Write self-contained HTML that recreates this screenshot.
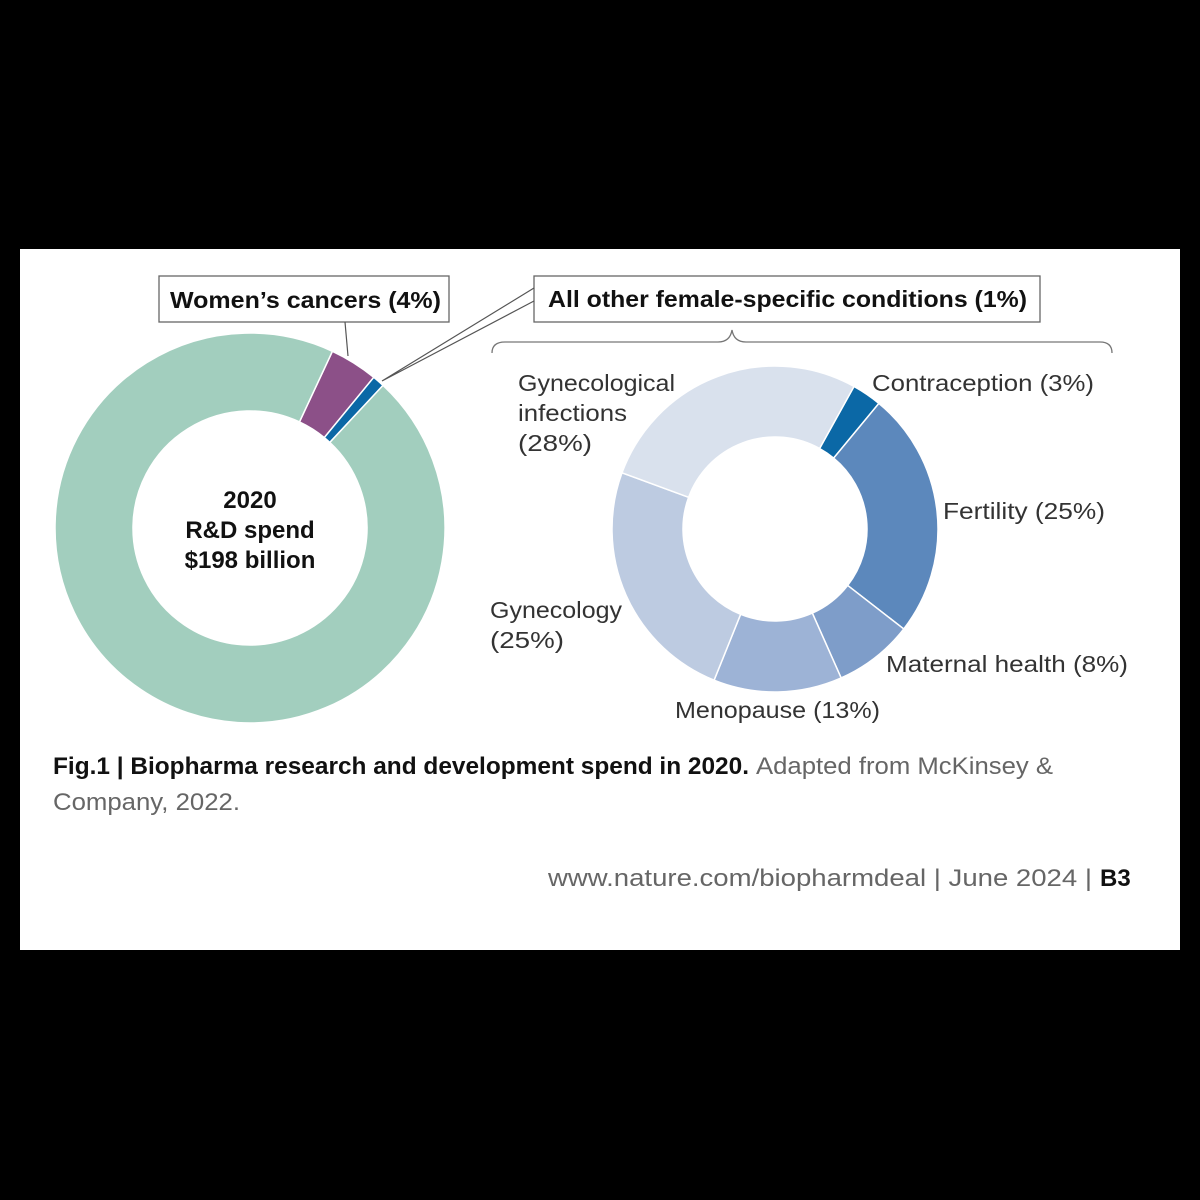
<!DOCTYPE html>
<html><head><meta charset="utf-8"><style>
html,body{margin:0;padding:0;background:#000;width:1200px;height:1200px;overflow:hidden}
svg{display:block}
text{font-family:"Liberation Sans",sans-serif}
</style></head><body>
<svg width="1200" height="1200" viewBox="0 0 1200 1200">
<rect x="20" y="249" width="1160" height="701" fill="#fff"/>
<g id="left"></g>
<g id="right"></g>
<g font-weight="bold" font-size="24" text-anchor="middle" fill="#111">
<text x="250" y="508">2020</text><text x="250" y="538">R&amp;D spend</text><text x="250" y="568">$198 billion</text></g>
<rect x="159" y="276" width="290" height="46" fill="#fff" stroke="#666" stroke-width="1.3"/>
<text x="170" y="308" textLength="271" lengthAdjust="spacingAndGlyphs" font-weight="bold" font-size="23" fill="#111">Women’s cancers (4%)</text>
<polyline points="345,322 348,356" fill="none" stroke="#555" stroke-width="1.2"/>
<rect x="534" y="276" width="506" height="46" fill="#fff" stroke="#666" stroke-width="1.3"/>
<text x="548" y="307" textLength="479" lengthAdjust="spacingAndGlyphs" font-weight="bold" font-size="23" fill="#111">All other female-specific conditions (1%)</text>
<polyline points="534,288 382,381 534,301" fill="none" stroke="#555" stroke-width="1.2"/>
<path d="M492,353 Q492,342 505,342 L718,342 Q730,342 732,330 Q734,342 746,342 L1100,342 Q1112,342 1112,353" fill="none" stroke="#777" stroke-width="1.3"/>
<g id="rlabels" font-size="23" fill="#333">
<text x="518" y="391" textLength="157" lengthAdjust="spacingAndGlyphs">Gynecological</text><text x="518" y="421" textLength="109" lengthAdjust="spacingAndGlyphs">infections</text><text x="518" y="451" textLength="74" lengthAdjust="spacingAndGlyphs">(28%)</text>
<text x="872" y="391" textLength="222" lengthAdjust="spacingAndGlyphs">Contraception (3%)</text>
<text x="943" y="519" textLength="162" lengthAdjust="spacingAndGlyphs">Fertility (25%)</text>
<text x="886" y="672" textLength="242" lengthAdjust="spacingAndGlyphs">Maternal health (8%)</text>
<text x="675" y="718" textLength="205" lengthAdjust="spacingAndGlyphs">Menopause (13%)</text>
<text x="490" y="618" textLength="132" lengthAdjust="spacingAndGlyphs">Gynecology</text><text x="490" y="648" textLength="74" lengthAdjust="spacingAndGlyphs">(25%)</text>
</g>
<text x="53" y="774" textLength="696" lengthAdjust="spacingAndGlyphs" font-size="24" font-weight="bold" fill="#111">Fig.1 | Biopharma research and development spend in 2020.</text>
<text x="756" y="774" textLength="297" lengthAdjust="spacingAndGlyphs" font-size="24" fill="#666">Adapted from McKinsey &amp;</text>
<text x="53" y="810" textLength="187" lengthAdjust="spacingAndGlyphs" font-size="24" fill="#666">Company, 2022.</text>
<text x="548" y="886" textLength="544" lengthAdjust="spacingAndGlyphs" font-size="24" fill="#666">www.nature.com/biopharmdeal | June 2024 |</text>
<text x="1100" y="886" font-weight="bold" font-size="24" fill="#111">B3</text>
</svg>
<script>
const leftCategories = ["Women's cancers","All other female-specific","Other R&D"];
const leftValues = [4, 1, 95];
const leftColors = ["#8c5088","#0b68a6","#a2cebe"];
const rightCategories = ["Contraception","Fertility","Maternal health","Menopause","Gynecology","Gynecological infections"];
const rightValues = [3, 25, 8, 13, 25, 28];
const rightColors = ["#0b68a6","#5c88bc","#7e9dc9","#9db3d6","#bdcbe1","#d9e1ed"];
const NS="http://www.w3.org/2000/svg";
function pt(cx,cy,r,a){const t=a*Math.PI/180;return [cx+r*Math.sin(t),cy-r*Math.cos(t)];}
function donut(gid,vals,cols,names,cx,cy,ro,ri,start){
  const g=document.getElementById(gid);const tot=vals.reduce((a,b)=>a+b,0);let a=start;
  vals.forEach((v,i)=>{const s=a,e=a+v/tot*360;a=e;const lg=(e-s)>180?1:0;
    const p1=pt(cx,cy,ro,s),p2=pt(cx,cy,ro,e),p3=pt(cx,cy,ri,e),p4=pt(cx,cy,ri,s);
    const p=document.createElementNS(NS,'path');
    p.setAttribute('d',`M${p1} A${ro},${ro} 0 ${lg} 1 ${p2} L${p3} A${ri},${ri} 0 ${lg} 0 ${p4}Z`);
    p.setAttribute('fill',cols[i]);p.setAttribute('stroke','#fff');p.setAttribute('stroke-width','1.5');
    
    
    g.appendChild(p);});
}
donut('left',leftValues,leftColors,leftCategories,250,528,195,117,25);
donut('right',rightValues,rightColors,rightCategories,775,529,163,92,29);
</script>
</body></html>
